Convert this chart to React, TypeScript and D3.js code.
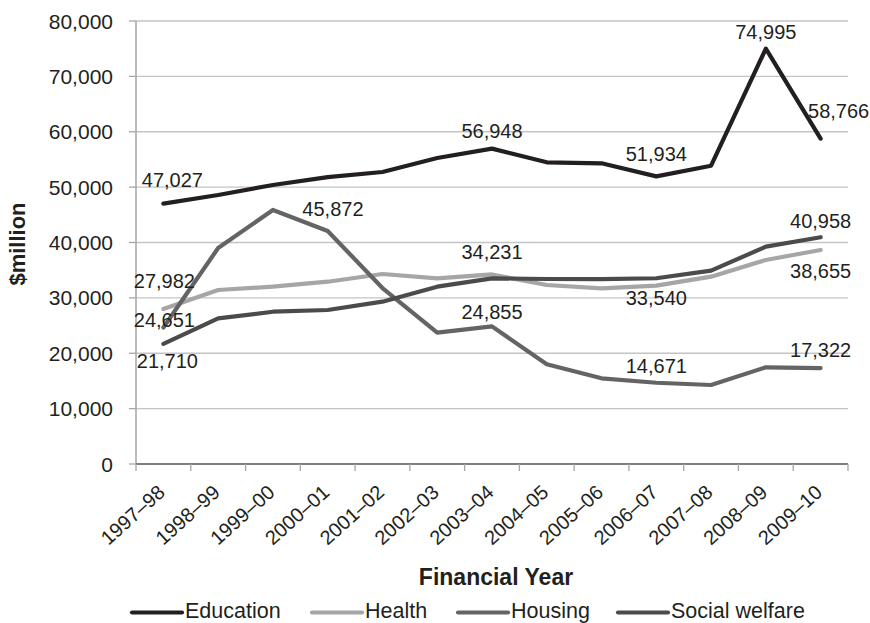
import React from "react";
import * as d3 from "d3";

const categories = ["1997–98","1998–99","1999–00","2000–01","2001–02","2002–03","2003–04","2004–05","2005–06","2006–07","2007–08","2008–09","2009–10"];
const education = [47027, 48580, 50380, 51800, 52730, 55260, 56948, 54480, 54300, 51934, 53870, 74995, 58766];
const health = [27982, 31420, 32020, 32920, 34310, 33530, 34231, 32320, 31720, 32200, 33830, 36840, 38655];
const housing = [24651, 39000, 45872, 42080, 31780, 23710, 24855, 18000, 15470, 14671, 14270, 17460, 17322];
const socialWelfare = [21710, 26300, 27500, 27810, 29310, 32020, 33530, 33410, 33400, 33540, 34910, 39250, 40958];
const yTicks = [0, 10000, 20000, 30000, 40000, 50000, 60000, 70000, 80000];
const seriesNames = ["Education", "Health", "Housing", "Social welfare"];

const W = 870, H = 623;
const left = 136, right = 848, top = 21, bottom = 464;
const colors = ["#231f20", "#a6a6a6", "#646464", "#4b4b4b"];
const font = "'Liberation Sans', Arial, sans-serif";

// label placement: series index, point index, offset from point (dx, dy to baseline)
const labelPlacement: [number, number, number, number][] = [
  [0, 0, 9, -16.6], [0, 6, 0, -11], [0, 9, 0, -15], [0, 11, 0, -10], [0, 12, 18, -21],
  [1, 0, 1, -21], [1, 6, 0, -15], [1, 12, 0, 28.4],
  [2, 0, 1, 0], [2, 2, 60, 6], [2, 6, 0, -7], [2, 9, 0, -10], [2, 12, 0, -11],
  [3, 0, 4, 24.5], [3, 9, 0, 27], [3, 12, 0, -9.5],
];
const legendX = [132, 312, 458, 618];

export default function App() {
  const data = [education, health, housing, socialWelfare];
  const x = d3.scaleBand<string>().domain(categories).range([left, right]);
  const y = d3.scaleLinear().domain([0, 80000]).range([bottom, top]);
  const cx = (i: number) => (x(categories[i]) as number) + x.bandwidth() / 2;
  const line = d3.line<number>().x((_, i) => cx(i)).y((d) => y(d));
  const fmt = d3.format(",");
  const bounds = categories.map((c) => x(c) as number).concat([right]);

  return (
    <svg width={W} height={H} style={{ position: "absolute", left: 0, top: 0, background: "#fff" }} fontFamily={font}>
      {yTicks.map((t) => (
        <g key={t}>
          {t > 0 && <line x1={left} x2={right} y1={y(t)} y2={y(t)} stroke="#c4c4c4" strokeWidth={1.3} />}
          <line x1={left - 7} x2={left} y1={y(t)} y2={y(t)} stroke="#a6a6a6" strokeWidth={1.3} />
          <text x={113} y={y(t) + 7.5} textAnchor="end" fontSize={21} fill="#231f20">{fmt(t)}</text>
        </g>
      ))}
      <line x1={left} x2={left} y1={top} y2={bottom} stroke="#a6a6a6" strokeWidth={1.5} />
      <line x1={left} x2={right} y1={bottom} y2={bottom} stroke="#7f7f7f" strokeWidth={2} />
      {bounds.map((b, i) => (
        <line key={i} x1={b} x2={b} y1={bottom} y2={bottom + 7} stroke="#a6a6a6" strokeWidth={1.3} />
      ))}
      {categories.map((c, i) => (
        <text key={c} transform={`translate(${cx(i) + 3},${bottom + 30}) rotate(-42)`} textAnchor="end" fontSize={20} fill="#231f20">{c}</text>
      ))}
      {data.map((s, k) => (
        <path key={k} d={line(s) as string} fill="none" stroke={colors[k]} strokeWidth={4.2} strokeLinejoin="round" strokeLinecap="round" />
      ))}
      {labelPlacement.map(([k, i, dx, dy], j) => (
        <text key={j} x={cx(i) + dx} y={y(data[k][i]) + dy} textAnchor="middle" fontSize={20} fill="#231f20">{fmt(data[k][i])}</text>
      ))}
      <text transform={`translate(25,244) rotate(-90)`} textAnchor="middle" fontSize={22} fontWeight="bold" fill="#231f20">$million</text>
      <text x={(left + right) / 2 + 4} y={585} textAnchor="middle" fontSize={23} fontWeight="bold" fill="#231f20">Financial Year</text>
      {seriesNames.map((n, k) => (
        <g key={n}>
          <line x1={legendX[k]} x2={legendX[k] + 50} y1={612.5} y2={612.5} stroke={colors[k]} strokeWidth={4.2} strokeLinecap="round" />
          <text x={legendX[k] + 53} y={617.5} fontSize={21.5} fill="#231f20">{n}</text>
        </g>
      ))}
    </svg>
  );
}
